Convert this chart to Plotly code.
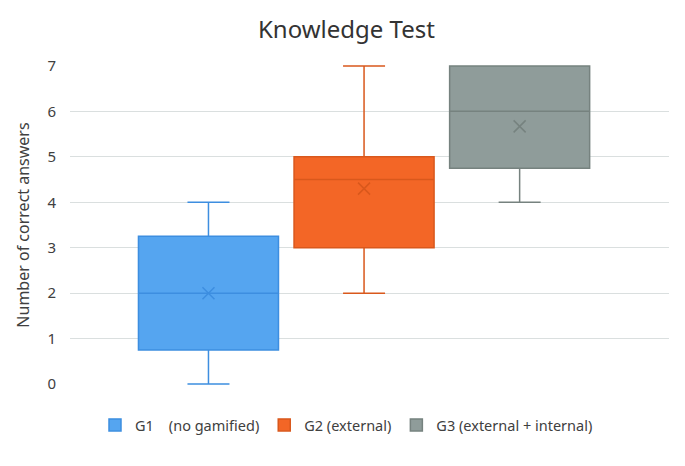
import plotly.graph_objects as go

groups = ["G1　(no gamified)", "G2 (external)", "G3 (external + internal)"]
lower = [0, 2, 4]
q1 = [0.75, 3, 4.75]
median = [2, 4.5, 6]
q3 = [3.25, 5, 7]
upper = [4, 7, 7]
means = [2.0, 4.3, 5.67]

fills = ["#55a5f0", "#f36626", "#8f9c9a"]
lines = ["#3d8ee0", "#d9581c", "#76827f"]

# page has an 8px body margin, so the figure is a bit smaller than the window
W, H = 677, 458

fig = go.Figure()
for i, g in enumerate(groups):
    fig.add_trace(go.Box(
        name=g,
        x=[i],
        q1=[q1[i]], median=[median[i]], q3=[q3[i]],
        lowerfence=[lower[i]], upperfence=[upper[i]],
        fillcolor=fills[i],
        line=dict(color=lines[i], width=1.5),
        whiskerwidth=0.3,
        width=0.9,
        boxpoints=False,
        hoverinfo="skip",
    ))
    fig.add_trace(go.Scatter(
        x=[i], y=[means[i]],
        mode="markers",
        marker=dict(symbol="x-thin", size=12, line=dict(color=lines[i], width=1.5)),
        showlegend=False, hoverinfo="skip",
    ))

fig.update_layout(
    width=W, height=H,
    paper_bgcolor="white", plot_bgcolor="white",
    margin=dict(l=62, r=16, t=57, b=81, autoexpand=False),
    font=dict(family="Noto Sans, Open Sans, sans-serif", color="#404040"),
    title=dict(text="Knowledge Test", x=0.5, xanchor="center", y=1 - 22 / H,
               yanchor="middle", font=dict(size=24, color="#333333")),
    showlegend=True,
    legend=dict(orientation="h", xref="container", yref="container",
                x=0.5, xanchor="center", y=41 / H, yanchor="middle",
                font=dict(size=14.5, color="#404040")),
)
fig.update_xaxes(range=[-0.89, 2.96], showticklabels=False, showgrid=False,
                 zeroline=False, showline=False)
fig.update_yaxes(range=[-0.02, 7.02], tickvals=list(range(8)), gridcolor="#dadfdf",
                 zeroline=False, showline=False, tickfont=dict(size=15),
                 ticklabelstandoff=13, automargin=False,
                 title=dict(text="Number of correct answers", font=dict(size=16), standoff=13))

fig.write_html("out.html")
